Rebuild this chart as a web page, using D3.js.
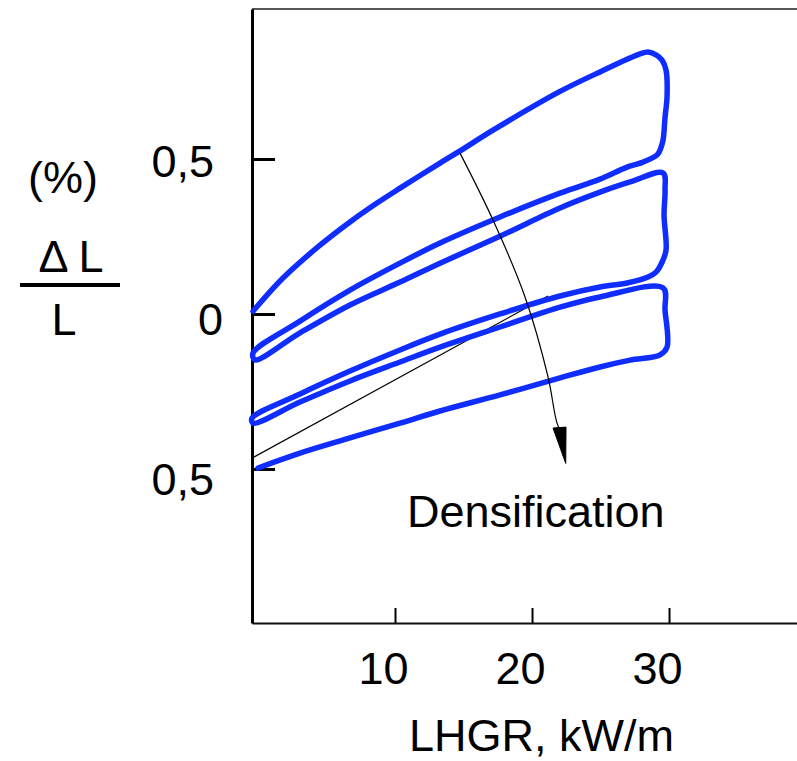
<!DOCTYPE html>
<html>
<head>
<meta charset="utf-8">
<script src="https://cdn.jsdelivr.net/npm/d3@7/dist/d3.min.js"></script>
<style>
  html, body { margin: 0; padding: 0; background: #fff; }
  svg { display: block; }
  text { font-family: "Liberation Sans", Arial, Helvetica, sans-serif; fill: #000; }
</style>
</head>
<body>
<svg id="chart" width="797" height="761"></svg>
<script>
// ---- data (LHGR kW/m, ΔL/L %) ----
const xTicks = [10, 20, 30];
const yTicks = [0.5, 0, -0.5];
const yTickLabels = ["0,5", "0", "0,5"];
const xLabel = "LHGR, kW/m";
const annotation = "Densification";

// continuous power-cycle trace: three heating/cooling loops
const cycleLHGR = [
  -0.365, 1.825, 4.526, 6.715, 8.686, 10.365, 13.285, 14.745, 17.153, 22.044, 24.964, 27.883, 28.467, 29.051, 29.489, 29.781, 29.854, 29.708, 29.562, 29.343, 29.124,
  28.102, 26.934, 24.964, 22.044, 17.664, 13.285, 10.365, 6.715, 3.066, -0.365,
  -0.219, 3.066, 6.715, 10.365, 13.285, 17.664, 22.044, 24.964, 27.153, 29.562,
  29.708, 29.635, 29.781, 29.489, 29.051, 28.467,
  26.934, 24.964, 22.044, 17.664, 13.285, 10.365, 6.715, 3.066, -0.438,
  -0.365, 3.066, 6.715, 10.365, 13.285, 17.664, 22.044, 24.964, 29.562,
  29.708, 29.854, 29.343,
  27.153, 24.964, 22.044, 17.664, 13.285, 10.365, 6.715, 3.066, 0.0
];
const cycleStrain = [
  0.009, 0.116, 0.222, 0.297, 0.358, 0.406, 0.487, 0.526, 0.593, 0.718, 0.781, 0.839, 0.845, 0.836, 0.819, 0.787, 0.700, 0.635, 0.561, 0.529, 0.513,
  0.490, 0.474, 0.435, 0.390, 0.313, 0.229, 0.164, 0.077, -0.023, -0.126,
  -0.148, -0.061, 0.029, 0.103, 0.164, 0.251, 0.342, 0.393, 0.426, 0.455,
  0.400, 0.319, 0.206, 0.167, 0.135, 0.119,
  0.100, 0.087, 0.058, 0.000, -0.065, -0.116, -0.184, -0.258, -0.336,
  -0.352, -0.284, -0.216, -0.155, -0.107, -0.042, 0.022, 0.055, 0.084,
  0.013, -0.107, -0.132,
  -0.149, -0.171, -0.206, -0.261, -0.313, -0.352, -0.400, -0.449, -0.497
];

// thin reference line
const refLHGR = [-0.438, 21.168];
const refStrain = [-0.465, 0.058];

// curved "densification" arrow
const arrowLHGR = [14.745, 17.153, 19.489, 21.168, 21.825, 22.30];
const arrowStrain = [0.519, 0.303, 0.055, -0.203, -0.352, -0.40];
const headLHGR = [21.533, 22.482, 22.46];
const headStrain = [-0.368, -0.365, -0.482];

// ---- drawing ----
const svg = d3.select("#chart");
const W = 797;
const x = d3.scaleLinear().domain([-0.438, 39.34]).range([252, W]);
const y = d3.scaleLinear().domain([-0.997, 0.984]).range([623, 9]);
const FONT = 45;

// top frame line
svg.append("line")
  .attr("x1", x.range()[0]).attr("x2", W)
  .attr("y1", y.range()[1]).attr("y2", y.range()[1])
  .attr("stroke", "#555").attr("stroke-width", 2);

// x axis
const gx = svg.append("g").attr("transform", `translate(0,${y.range()[0]})`)
  .call(d3.axisBottom(x).tickValues(xTicks).tickSizeInner(-15).tickSizeOuter(0)
        .tickPadding(29).tickFormat(d3.format("d")));
gx.select(".domain").attr("stroke", "#111").attr("stroke-width", 2);
gx.selectAll(".tick line").attr("stroke", "#000").attr("stroke-width", 2);
gx.selectAll(".tick text").attr("font-size", FONT).attr("dx", -12)
  .style("font-family", "'Liberation Sans', Arial, sans-serif").attr("fill", "#000");

// y axis
const labelX = [-38, -29, -38];
const labelDy = [17, 21, 26];
const gy = svg.append("g").attr("transform", `translate(${x.range()[0]},0)`)
  .call(d3.axisLeft(y).tickValues(yTicks).tickSizeInner(-23).tickSizeOuter(0)
        .tickFormat((d, i) => yTickLabels[i]));
gy.select(".domain").attr("stroke", "#000").attr("stroke-width", 3);
gy.selectAll(".tick line").attr("stroke", "#000").attr("stroke-width", 3);
gy.selectAll(".tick text")
  .attr("font-size", FONT)
  .style("font-family", "'Liberation Sans', Arial, sans-serif").attr("fill", "#000")
  .attr("x", (d, i) => labelX[i]).attr("dy", (d, i) => labelDy[i]);

// reference line
svg.append("path")
  .datum(d3.zip(refLHGR, refStrain))
  .attr("d", d3.line().x(d => x(d[0])).y(d => y(d[1])))
  .attr("fill", "none").attr("stroke", "#000").attr("stroke-width", 1.2);

// loops
const cycle = d3.zip(cycleLHGR, cycleStrain);
svg.append("path")
  .datum(cycle)
  .attr("d", d3.line().x(d => x(d[0])).y(d => y(d[1])).curve(d3.curveCatmullRom.alpha(0.5)))
  .attr("fill", "none").attr("stroke", "#0f2dff").attr("stroke-width", 5.5)
  .attr("stroke-linejoin", "round").attr("stroke-linecap", "round");

// arrow
svg.append("path")
  .datum(d3.zip(arrowLHGR, arrowStrain))
  .attr("d", d3.line().x(d => x(d[0])).y(d => y(d[1])).curve(d3.curveCatmullRom.alpha(0.5)))
  .attr("fill", "none").attr("stroke", "#000").attr("stroke-width", 1.2);
svg.append("path")
  .datum(d3.zip(headLHGR, headStrain))
  .attr("d", d3.line().x(d => x(d[0])).y(d => y(d[1])).curve(d3.curveLinearClosed))
  .attr("fill", "#000").attr("stroke", "#000").attr("stroke-width", 1);

// annotation text
svg.append("text").attr("x", 407).attr("y", 527).attr("font-size", FONT).text(annotation);

// x label
svg.append("text").attr("x", 409).attr("y", 751).attr("font-size", FONT).text(xLabel);

// y label: (%) and ΔL / L fraction
svg.append("text").attr("x", 63).attr("y", 193).attr("font-size", FONT)
  .attr("text-anchor", "middle").text("(%)");
svg.append("text").attr("x", 71).attr("y", 272).attr("font-size", FONT)
  .attr("text-anchor", "middle").text("\u0394 L");
svg.append("line").attr("x1", 20).attr("x2", 120).attr("y1", 285).attr("y2", 285)
  .attr("stroke", "#000").attr("stroke-width", 4);
svg.append("text").attr("x", 64).attr("y", 335).attr("font-size", FONT)
  .attr("text-anchor", "middle").text("L");
</script>
</body>
</html>
